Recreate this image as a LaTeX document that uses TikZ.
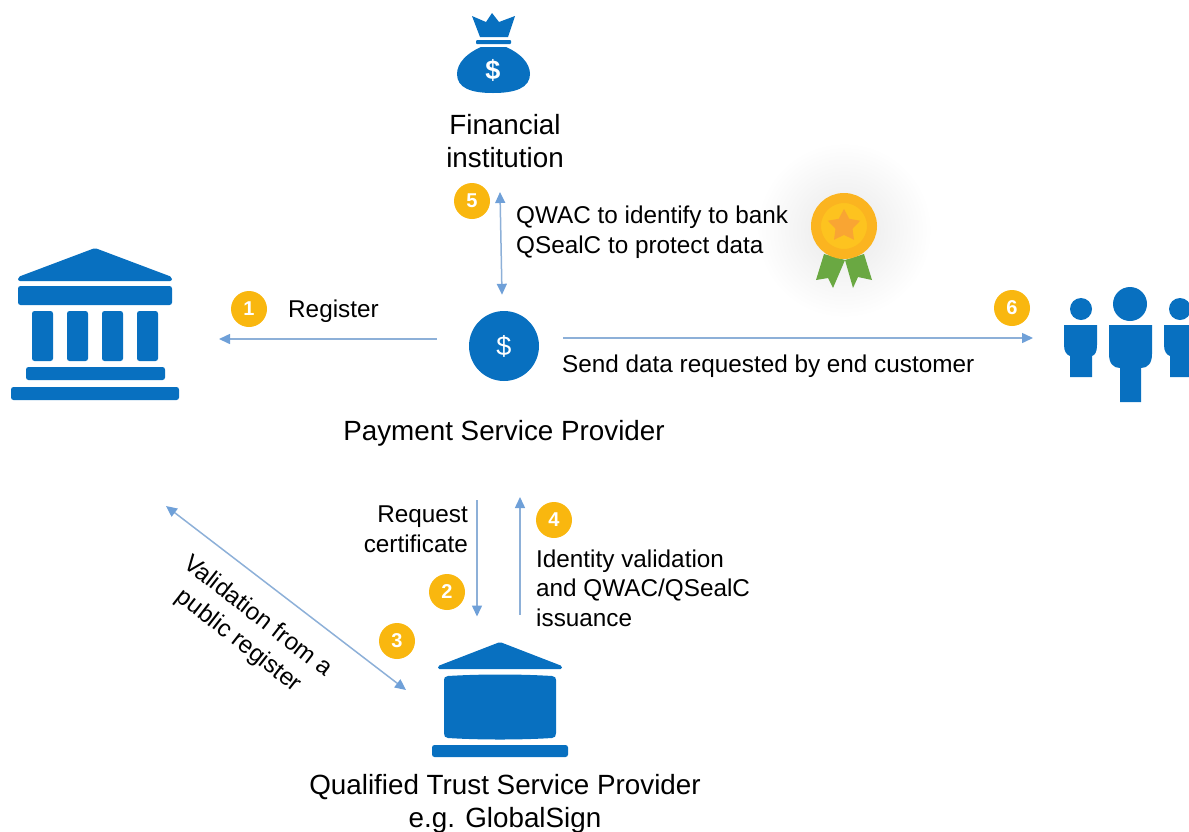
\documentclass[tikz,border=0pt]{standalone}
\usepackage{fontspec}
\setmainfont{Liberation Sans}
\usetikzlibrary{arrows.meta,shapes.geometric,calc}
\definecolor{iconblue}{HTML}{0870C0}
\definecolor{arrowblue}{HTML}{8DB0D8}
\definecolor{tipblue}{HTML}{6FA0D8}
\definecolor{gold}{HTML}{F9B70F}
\definecolor{medalring}{HTML}{FBB420}
\definecolor{medalin}{HTML}{FDC31F}
\definecolor{medalstar}{HTML}{F9A533}
\definecolor{ribbon}{HTML}{6AA842}
\tikzset{
  x=1pt,y=-1pt,
  icon/.style={fill=iconblue,draw=none},
  bar/.style={fill=iconblue,draw=none,rounded corners=2.5pt},
  anchorbox/.style={inner sep=0pt,outer sep=0pt,draw=none},
  flow/.style={draw=arrowblue,line width=1.5pt,-{Triangle[length=11pt,width=10pt,color=tipblue]}},
  flowboth/.style={draw=arrowblue,line width=1.5pt,{Triangle[length=11pt,width=10pt,color=tipblue]}-{Triangle[length=11pt,width=10pt,color=tipblue]}},
  badge/.style={circle,fill=gold,draw=none,minimum size=36pt,inner sep=0pt,text=white,font=\fontsize{20}{20}\selectfont\bfseries},
  big/.style={font=\fontsize{27.8}{33}\selectfont,inner sep=0pt,align=center},
  small/.style={font=\fontsize{24.3}{29.5}\selectfont,inner sep=0pt,align=left},
}
\begin{document}
\begin{tikzpicture}
\clip (0,0) rectangle (1189,831);
% medal glow
\shade[inner color=black!9,outer color=white] (844,230) circle (88);
% bank icon
\node[anchorbox,minimum width=168pt,minimum height=152pt] (bank) at (95,324) {};
\fill[icon,rounded corners=2pt] (95,248) -- (172,277) -- (172,281) -- (18,281) -- (18,277) -- cycle;
\fill[bar] (18,286) rectangle (172,305);
\foreach \cx in {32,67,102,137} \fill[bar] (\cx,311) rectangle (\cx+21,361);
\fill[bar] (26,367) rectangle (165,380);
\fill[bar] (11,387) rectangle (179,400);
% money bag
\node[anchorbox,minimum width=73pt,minimum height=80pt] (bag) at (493,53) {};
\fill[icon] (472,16) -- (486,22) -- (492,13) -- (499,22) -- (515,16) -- (508,37) -- (480,37) -- cycle;
\fill[bar,rounded corners=1pt] (476,40) rectangle (511,44);
\fill[icon] (481,47) -- (506,47) .. controls (520,53) and (530,63) .. (530,74)
  .. controls (530,88) and (515,93) .. (493,93) .. controls (471,93) and (457,88) .. (457,74)
  .. controls (457,63) and (467,53) .. (481,47) -- cycle;
\node[inner sep=0pt,text=white,font=\fontsize{27}{27}\selectfont\bfseries] (bagdollar) at (493,70) {\$};
% PSP coin
\node[circle,fill=iconblue,minimum size=70pt,inner sep=0pt,text=white,font=\fontsize{27}{27}\selectfont] (psp) at (504,346) {\$};
% people
\node[anchorbox,minimum width=125pt,minimum height=114pt] (people) at (1126,345) {};
\fill[icon] (1081,309) circle (11);
\fill[icon] (1064,325) -- (1097,325) -- (1097,345) .. controls (1097,352) and (1095,355) .. (1092,356) -- (1092,377) -- (1070,377) -- (1070,356) .. controls (1067,355) and (1064,352) .. (1064,345) -- cycle;
\fill[icon] (1130,304) circle (17);
\fill[icon] (1109,325) -- (1152,325) -- (1152,354) .. controls (1152,363) and (1148,368) .. (1141,368) -- (1141,402) -- (1120,402) -- (1120,368) .. controls (1113,368) and (1109,363) .. (1109,354) -- cycle;
\fill[icon] (1180,309) circle (11);
\fill[icon] (1164,325) -- (1197,325) -- (1197,345) -- (1192,356) -- (1192,377) -- (1170,377) -- (1170,356) .. controls (1167,355) and (1164,352) .. (1164,345) -- cycle;
% QTSP icon
\node[anchorbox,minimum width=136pt,minimum height=115pt] (qtsp) at (500,700) {};
\fill[icon,rounded corners=1.5pt] (500,642) -- (562,666) -- (562,669) -- (438,669) -- (438,666) -- cycle;
\fill[icon] (448,676) .. controls (480,674) and (520,674) .. (552,676) .. controls (555,676) and (556,678) .. (556,680) -- (556,733) .. controls (556,736) and (555,738) .. (552,738)
  .. controls (520,740) and (480,740) .. (448,738) .. controls (445,738) and (444,736) .. (444,733) -- (444,680) .. controls (444,678) and (445,676) .. (448,676) -- cycle;
\fill[bar] (432,745) rectangle (568,757);
% medal
\fill[ribbon] (824,254) -- (816,280) -- (828,278) -- (833,288) -- (845,260) -- cycle;
\fill[ribbon] (864,254) -- (872,280) -- (858,277) -- (853,288) -- (845,260) -- cycle;
\node[circle,fill=medalin,draw=medalring,line width=10pt,minimum size=56pt,inner sep=0pt] (medal) at (844,226) {};
\node[star,star points=5,star point ratio=1.9,fill=medalstar,minimum size=34pt,inner sep=0pt] (medalcentre) at (844,226) {};
% labels that anchor connectors
\node[big] (psplabel) at (504,433.5) {Payment Service Provider};
\node[big] (qtsplabel) at (505,803.5) {Qualified Trust Service Provider\\e.g. GlobalSign};
% connectors
\draw[flow] ([xshift=-32pt,yshift=7pt]psp.west) -- ([xshift=40pt,yshift=-15pt]bank.east);
\draw[flow] ([xshift=24pt,yshift=8pt]psp.east) -- ([xshift=-30.5pt,yshift=7pt]people.west);
\draw[flowboth] ([xshift=7pt,yshift=-99pt]bag.south) -- ([xshift=-2pt,yshift=16pt]psp.north);
\draw[flow] ([xshift=-27pt,yshift=-66.5pt]psplabel.center) -- ([xshift=-23pt,yshift=26pt]qtsp.north);
\draw[flow] ([xshift=20pt,yshift=28pt]qtsp.north) -- ([xshift=16pt,yshift=-63.5pt]psplabel.center);
\draw[flowboth] ([xshift=71pt,yshift=-106pt]bank.south) -- ([xshift=-26pt,yshift=10pt]qtsp.west);
% labels
\node[big] (bagtext) at (505,141) {Financial\\institution};
\node[small,anchor=west] (l5) at (516,232) {QWAC to identify to bank\\QSealC to protect data};
\node[small,anchor=west] (l1) at (288,311) {Register};
\node[small,anchor=west] (l6) at (562,366) {Send data requested by end customer};
\node[small,anchor=east,align=right] (l2) at (468,529) {Request\\certificate};
\node[small,anchor=west] (l4) at (536,588) {Identity validation\\and QWAC/QSealC\\issuance};
\node[small,align=center,rotate=-38,font=\fontsize{24.3}{31}\selectfont] (l3) at (248,629) {Validation from a\\public register};
% badges
\node[badge] (b1) at (249,309) {1};
\node[badge] (b2) at (447,592) {2};
\node[badge] (b3) at (397,641) {3};
\node[badge] (b4) at (554,520) {4};
\node[badge] (b5) at (472,201) {5};
\node[badge] (b6) at (1012,308) {6};
\end{tikzpicture}
\end{document}
